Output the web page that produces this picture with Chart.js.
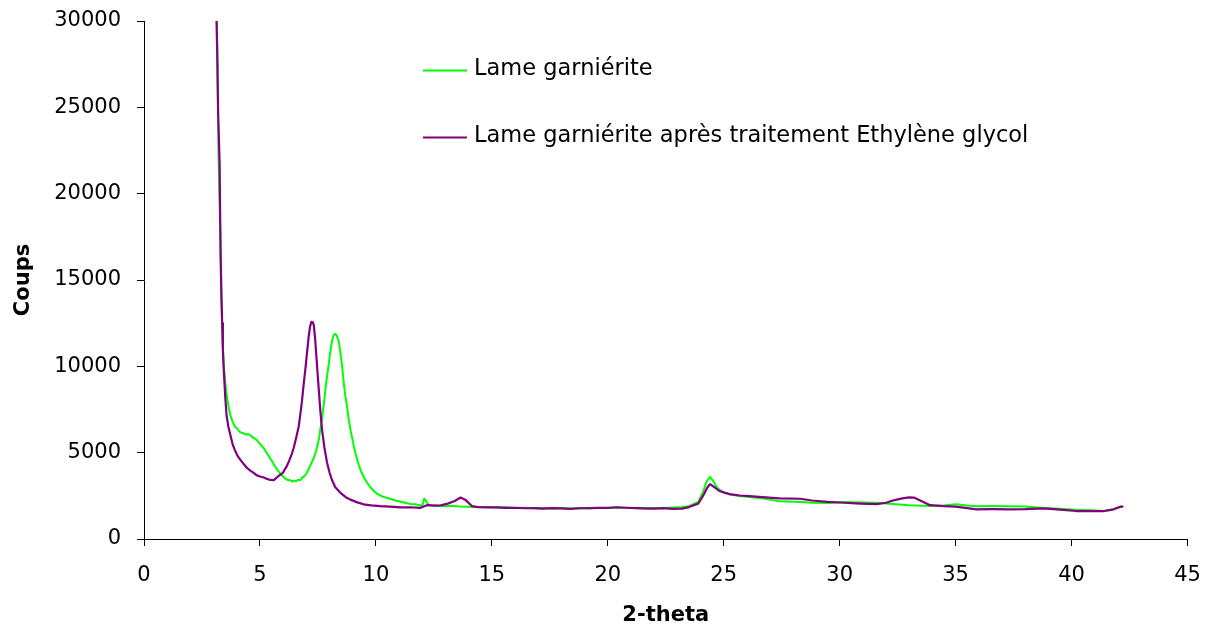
<!DOCTYPE html>
<html>
<head>
<meta charset="utf-8">
<script src="https://cdn.jsdelivr.net/npm/chart.js@4.4.1/dist/chart.umd.min.js"></script>
<style>
  html, body { margin: 0; padding: 0; background: #fff; }
  #wrap { width: 1211px; height: 629px; position: relative; }
</style>
</head>
<body>
<div id="wrap"><canvas id="c" width="1211" height="629"></canvas></div>
<script>
// ---- Data ----
const seriesLabels = ["Lame garniérite", "Lame garniérite après traitement Ethylène glycol"];
const xTickValues = [0, 5, 10, 15, 20, 25, 30, 35, 40, 45];
const yTickValues = [0, 5000, 10000, 15000, 20000, 25000, 30000];
const xAxisTitle = "2-theta";
const yAxisTitle = "Coups";

const greenX = [3.14,3.18,3.22,3.26,3.30,3.34,3.37,3.40,3.44,3.50,3.56,3.64,3.73,3.82,3.92,4.02,4.10,4.20,4.30,4.40,4.50,4.59,4.68,4.78,4.88,4.98,5.08,5.17,5.26,5.36,5.45,5.55,5.64,5.74,5.84,5.94,6.03,6.12,6.22,6.30,6.38,6.46,6.56,6.65,6.74,6.84,6.94,7.03,7.12,7.22,7.32,7.42,7.53,7.60,7.68,7.75,7.82,7.89,7.96,8.03,8.10,8.15,8.20,8.25,8.30,8.35,8.40,8.47,8.54,8.61,8.68,8.75,8.82,8.90,8.97,9.05,9.12,9.18,9.26,9.35,9.47,9.60,9.76,9.90,10.04,10.2,10.35,10.5,10.7,10.9,11.05,11.3,11.5,11.7,11.9,12.0,12.08,12.15,12.25,12.4,12.7,13.0,13.3,13.6,14.0,14.4,14.8,15.2,15.6,16.0,16.4,16.8,17.2,17.6,18.0,18.4,18.8,19.2,19.6,20.0,20.4,20.8,21.2,21.6,22.0,22.4,22.8,23.2,23.5,23.9,24.1,24.25,24.41,24.55,24.7,24.85,25.0,25.3,25.6,26.1,26.8,27.4,28.3,28.8,29.5,30.2,30.9,31.6,32.3,33.0,33.9,34.5,35.0,35.5,35.9,36.6,37.3,38.0,38.8,39.5,40.2,40.8,41.4,41.8,42.1];
const greenY = [30500,26000,22000,19500,17500,14000,12500,11200,10000,9100,8400,7700,7150,6800,6500,6400,6250,6150,6120,6050,6080,6000,5900,5820,5700,5550,5400,5250,5050,4850,4650,4450,4230,4030,3850,3700,3580,3480,3400,3420,3330,3380,3350,3420,3420,3560,3680,3850,4100,4400,4680,5100,5700,6300,7000,7750,8600,9400,10050,10800,11400,11700,11850,11870,11800,11650,11450,10800,10050,9100,8300,7750,7000,6350,5900,5350,4950,4660,4300,3950,3620,3300,3000,2800,2630,2520,2430,2370,2290,2210,2170,2090,2030,2010,1960,1930,2330,2250,2000,1960,1920,1900,1930,1880,1870,1850,1860,1820,1840,1800,1810,1780,1800,1770,1790,1760,1790,1770,1800,1790,1830,1790,1800,1770,1790,1780,1820,1850,1900,2150,2700,3300,3600,3350,3000,2820,2700,2580,2500,2430,2330,2180,2140,2100,2080,2140,2120,2100,2030,1960,1910,1940,2010,1940,1900,1910,1900,1880,1800,1750,1690,1660,1620,1700,1850];

const purpleX = [3.12,3.16,3.20,3.26,3.30,3.34,3.37,3.40,3.44,3.50,3.56,3.64,3.73,3.82,3.92,4.02,4.15,4.30,4.45,4.60,4.73,4.85,5.0,5.17,5.3,5.45,5.6,5.72,5.8,5.88,6.0,6.08,6.17,6.28,6.38,6.46,6.56,6.67,6.74,6.81,6.88,6.96,7.03,7.10,7.16,7.22,7.28,7.32,7.38,7.43,7.48,7.53,7.60,7.68,7.78,7.89,8.0,8.11,8.25,8.46,8.7,8.9,9.2,9.47,9.8,10.19,10.6,11.05,11.5,11.9,12.2,12.5,12.8,13.1,13.4,13.65,13.85,14.15,14.4,14.8,15.2,15.6,16.0,16.4,16.8,17.2,17.6,18.0,18.4,18.8,19.2,19.6,20.0,20.4,20.8,21.2,21.6,22.0,22.4,22.8,23.2,23.5,23.9,24.15,24.3,24.41,24.55,24.81,25.24,25.7,26.1,26.8,27.4,28.3,28.8,29.5,30.2,30.9,31.6,32.0,32.3,32.7,33.0,33.2,33.45,33.9,34.5,35.0,35.9,36.6,37.3,38.0,38.8,39.5,40.2,40.8,41.4,41.8,42.1,42.2];
const purpleY = [30500,28000,24500,21800,16600,14000,12500,11000,9800,8300,7150,6500,6000,5500,5150,4850,4600,4340,4100,3950,3830,3700,3620,3560,3480,3420,3410,3550,3650,3720,3850,4050,4250,4600,4950,5300,5850,6500,7200,7950,8900,9850,10800,11700,12300,12580,12550,12400,11600,10650,9700,8800,7500,6300,5300,4450,3850,3400,3000,2690,2420,2280,2120,2010,1950,1900,1870,1830,1840,1800,1960,1930,1950,2050,2200,2400,2280,1900,1850,1830,1830,1800,1810,1780,1790,1760,1790,1770,1750,1780,1790,1810,1800,1840,1810,1790,1770,1760,1790,1740,1760,1850,2050,2600,3000,3180,3050,2780,2600,2520,2480,2410,2350,2330,2230,2150,2100,2050,2020,2100,2230,2350,2410,2400,2250,1960,1900,1870,1720,1730,1720,1730,1770,1700,1620,1620,1620,1720,1870,1880];

const toPoints = (xs, ys) => xs.map((x, i) => ({ x: x, y: ys[i] }));

const FONT = "'DejaVu Sans', sans-serif";

const insideLegend = {
  id: 'insideLegend',
  afterDraw(chart) {
    const ctx = chart.ctx;
    ctx.save();
    const items = [
      { ds: chart.data.datasets[1], y: 70.5 },
      { ds: chart.data.datasets[0], y: 137.5 }
    ];
    items.forEach(it => {
      ctx.strokeStyle = it.ds.borderColor;
      ctx.lineWidth = 2;
      ctx.beginPath();
      ctx.moveTo(423, it.y);
      ctx.lineTo(467, it.y);
      ctx.stroke();
      ctx.fillStyle = '#000';
      ctx.font = "22.5px " + FONT;
      ctx.textBaseline = 'middle';
      ctx.textAlign = 'left';
      ctx.fillText(it.ds.label, 474, it.y - 1);
    });
    ctx.restore();
  }
};

new Chart(document.getElementById('c'), {
  type: 'line',
  data: {
    datasets: [
      {
        label: seriesLabels[1],
        data: toPoints(purpleX, purpleY),
        borderColor: '#800080',
        borderWidth: 2.2,
        borderJoinStyle: 'round',
        borderCapStyle: 'round',
        pointRadius: 0,
        tension: 0,
        fill: false
      },
      {
        label: seriesLabels[0],
        data: toPoints(greenX, greenY),
        borderColor: '#00FF00',
        borderWidth: 2,
        borderJoinStyle: 'round',
        borderCapStyle: 'round',
        pointRadius: 0,
        tension: 0,
        fill: false
      }
    ]
  },
  options: {
    responsive: false,
    animation: false,
    layout: { padding: { top: 21, right: 23.5, bottom: 0, left: 0 } },
    plugins: {
      legend: { display: false },
      tooltip: { enabled: false }
    },
    scales: {
      x: {
        type: 'linear',
        min: xTickValues[0],
        max: xTickValues[xTickValues.length - 1],
        afterBuildTicks: s => { s.ticks = xTickValues.map(v => ({ value: v })); },
        afterFit: s => { s.height = 90; s.paddingLeft = 0; s.paddingRight = 0; },
        grid: { drawOnChartArea: false, drawTicks: true, tickLength: 7, color: '#000' },
        border: { display: true, color: '#000', width: 1 },
        ticks: { color: '#000', font: { family: FONT, size: 21 }, padding: 17, maxRotation: 0 },
        title: { display: true, text: xAxisTitle, color: '#000', font: { family: FONT, size: 21, weight: 'bold' }, padding: { top: 0, bottom: 1 } }
      },
      y: {
        type: 'linear',
        min: yTickValues[0],
        max: yTickValues[yTickValues.length - 1],
        afterBuildTicks: s => { s.ticks = yTickValues.map(v => ({ value: v })); },
        afterFit: s => { s.width = 144; s.paddingTop = 0; s.paddingBottom = 0; },
        grid: { drawOnChartArea: false, drawTicks: true, tickLength: 7, color: '#000' },
        border: { display: true, color: '#000', width: 1 },
        ticks: { color: '#000', font: { family: FONT, size: 21 }, padding: 16, callback: v => String(v) },
        title: { display: true, text: yAxisTitle, color: '#000', font: { family: FONT, size: 21, weight: 'bold' }, padding: { top: 11, bottom: 0 } }
      }
    }
  },
  plugins: [insideLegend]
});
</script>
</body>
</html>
